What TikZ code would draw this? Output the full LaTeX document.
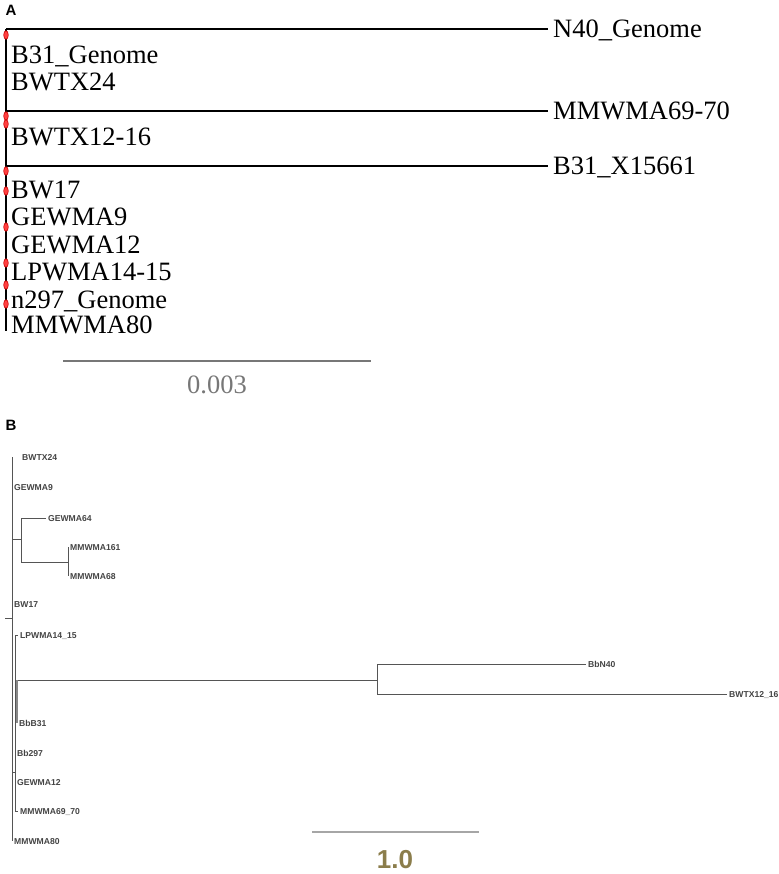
\documentclass[tikz,border=0pt]{standalone}
\usepackage{fontspec}
\setmainfont{Liberation Serif}
\setsansfont{Liberation Sans}
\usepackage{tikz}
\definecolor{scalegray}{HTML}{777777}
\definecolor{treegray}{HTML}{555555}
\definecolor{olive10}{HTML}{8B7D4B}
\tikzset{
    panel/.style={
           font=\sffamily\bfseries\fontsize{15}{15}\selectfont,
           inner sep=0pt,
           },
    leafA/.style={
           anchor=west,
           font=\fontsize{26.5}{27}\selectfont,
           inner xsep=5pt, inner ysep=0pt,
           text height=17.5pt, text depth=0pt,
           },
    leafB/.style={
           anchor=west,
           font=\sffamily\bfseries\fontsize{8.6}{9}\selectfont,
           text=treegray!80!black,
           inner xsep=2pt, inner ysep=0pt,
           text height=6.2pt, text depth=0pt,
           },
    branchA/.style={draw=black, line width=2.6pt},
    branchB/.style={draw=treegray, line width=0.8pt},
    redmark/.style={draw=red!80!black, fill=red!75, line width=0.6pt},
}

\begin{document}
\begin{tikzpicture}[x=1pt,y=-1pt]
    \useasboundingbox (0,0) rectangle (778,874);

    % Panel A: tree with scale 0.003
    \node[panel] (labA) at (11,10) {A};
    \coordinate (a-root) at (6,29);
    \coordinate (a-j1) at (6,111);
    \coordinate (a-j2) at (6,166);
    \coordinate (a-end) at (6,331);

    \node[leafA] (n40)   at (548,29)  {N40\_Genome};
    \node[leafA] (mm69)  at (548,111) {MMWMA69-70};
    \node[leafA] (x15661) at (548,166) {B31\_X15661};

    \node[leafA] (b31g)  at (6,55)  {B31\_Genome};
    \node[leafA] (tx24)  at (6,82)  {BWTX24};
    \node[leafA] (tx12)  at (6,137) {BWTX12-16};
    \node[leafA] (bw17)  at (6,190) {BW17};
    \node[leafA] (ge9)   at (6,217) {GEWMA9};
    \node[leafA] (ge12)  at (6,245) {GEWMA12};
    \node[leafA] (lp14)  at (6,272) {LPWMA14-15};
    \node[leafA] (n297)  at (6,300) {n297\_Genome};
    \node[leafA] (mm80)  at (6,325) {MMWMA80};

    % draw the branches of tree A
    \path[branchA]
        (a-root) edge (a-end)
        (a-root) edge (n40.west)
        (a-j1)   edge (mm69.west)
        (a-j2)   edge (x15661.west);

    % red marks on the root line
    \foreach \yy in {35,116,124,171,191,227,263,285,304}
        \draw[redmark] (6,\yy) ellipse (2.3pt and 4.3pt);

    % scale bar A
    \coordinate (sa-l) at (63,361);
    \coordinate (sa-r) at (371,361);
    \draw[scalegray, line width=2pt] (sa-l) -- (sa-r);
    \node[text=scalegray, font=\fontsize{26.5}{27}\selectfont, inner sep=0pt] (sa-lab) at (217,385) {0.003};

    % Panel B: tree with scale 1.0
    \node[panel] (labB) at (11,425) {B};
    \coordinate (b-root) at (5,618);
    \coordinate (b-main) at (12,618);
    \coordinate (b-top) at (12,457);
    \coordinate (b-bot) at (12,841);
    \coordinate (b-c1) at (12,539);
    \coordinate (b-c1v) at (21,539);
    \coordinate (b-c1t) at (21,518);
    \coordinate (b-c1b) at (21,562);
    \coordinate (b-c2) at (68,562);
    \coordinate (b-c2t) at (68,547);
    \coordinate (b-c2b) at (68,576);
    \coordinate (b-c3) at (12,772);
    \coordinate (b-c3v) at (15,772);
    \coordinate (b-c3t) at (15,635);
    \coordinate (b-c3b) at (15,811);
    \coordinate (b-c4t) at (17,680);
    \coordinate (b-c4b) at (17,723);
    \coordinate (b-c5) at (377,680);
    \coordinate (b-c5t) at (377,664);
    \coordinate (b-c5b) at (377,694);

    \node[leafB] (bwtx24)  at (20,457) {BWTX24};
    \node[leafB] (gewma9)  at (12,487) {GEWMA9};
    \node[leafB] (gewma64) at (46,518) {GEWMA64};
    \node[leafB] (mm161)   at (68,547) {MMWMA161};
    \node[leafB] (mm68)    at (68,576) {MMWMA68};
    \node[leafB] (bw17b)   at (12,604) {BW17};
    \node[leafB] (lpwma)   at (18,635) {LPWMA14\_15};
    \node[leafB] (bbn40)   at (586,664) {BbN40};
    \node[leafB] (bwtx12)  at (727,694) {BWTX12\_16};
    \node[leafB] (bbb31)   at (17,723) {BbB31};
    \node[leafB] (bb297)   at (15,753) {Bb297};
    \node[leafB] (gewma12) at (15,782) {GEWMA12};
    \node[leafB] (mm6970)  at (18,811) {MMWMA69\_70};
    \node[leafB] (mm80b)   at (12,841) {MMWMA80};

    % draw the branches of tree B
    \path[branchB]
        (b-root) edge (b-main)
        (b-top)  edge (b-bot)
        (b-c1)   edge (b-c1v)
        (b-c1t)  edge (b-c1b)
        (b-c1t)  edge (gewma64.west)
        (b-c1b)  edge (b-c2)
        (b-c2t)  edge (b-c2b)
        (b-c3)   edge (b-c3v)
        (b-c3t)  edge (b-c3b)
        (b-c3t)  edge (lpwma.west)
        (b-c3b)  edge (mm6970.west)
        (b-c4t)  edge (b-c5)
        (b-c5t)  edge (b-c5b)
        (b-c5t)  edge (bbn40.west)
        (b-c5b)  edge (bwtx12.west);
    \draw[treegray!70, line width=1.6pt] (b-c4t) -- (b-c4b);

    % scale bar B
    \coordinate (sb-l) at (312,832);
    \coordinate (sb-r) at (479,832);
    \draw[gray!70, line width=2pt] (sb-l) -- (sb-r);
    \node[text=olive10, font=\sffamily\bfseries\fontsize{26}{26}\selectfont, inner sep=0pt] (sb-lab) at (395,860) {1.0};
\end{tikzpicture}
\end{document}
